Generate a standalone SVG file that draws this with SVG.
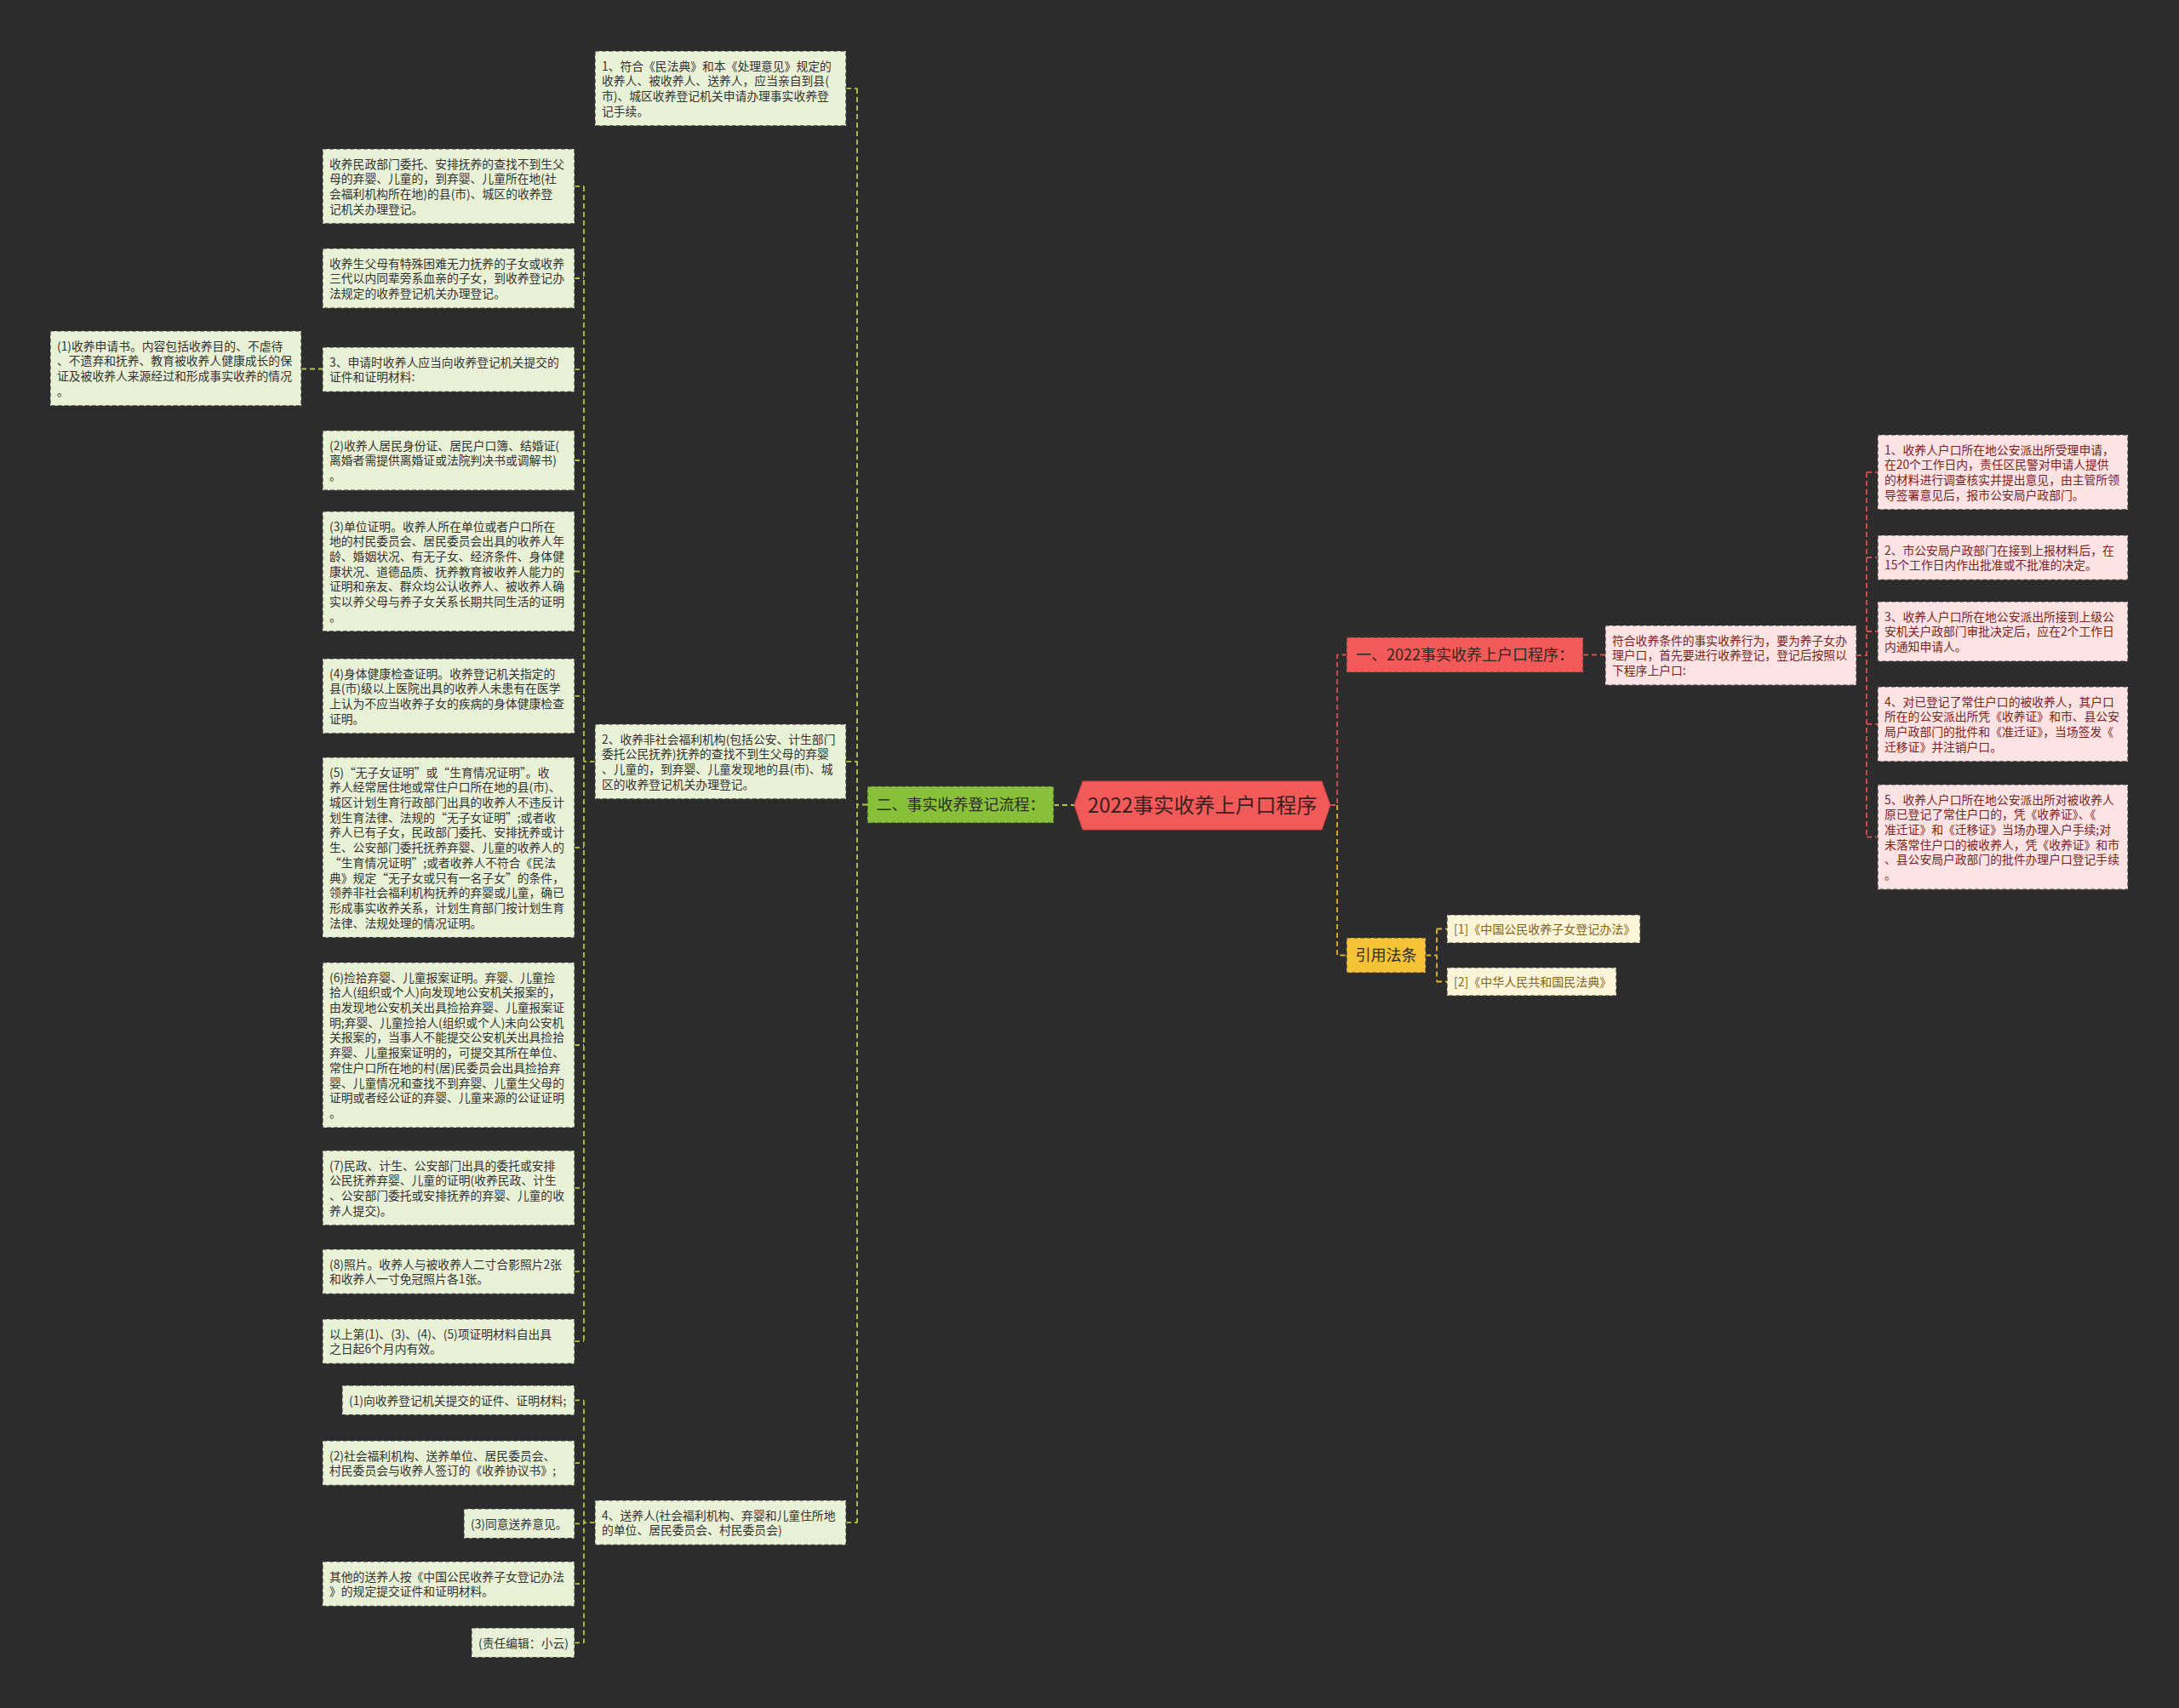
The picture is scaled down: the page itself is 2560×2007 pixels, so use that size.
<svg xmlns="http://www.w3.org/2000/svg" width="2560" height="2007" viewBox="0 0 2560 2007">
<style>
text{font-family:"Noto Sans CJK SC","Noto Sans",sans-serif}
.lg rect{fill:#e9f1d6;stroke:#3a3a3a;stroke-width:1.2;stroke-dasharray:5 3}
.lg text{font-size:13.8px;fill:#333}
.pk rect{fill:#fde3e3;stroke:#3a3a3a;stroke-width:1.2;stroke-dasharray:5 3}
.pk text{font-size:13.8px;fill:#7a2323}
.ct rect{fill:#fdf5d8;stroke:#3a3a3a;stroke-width:1.2;stroke-dasharray:5 3}
.ct text{font-size:14px;fill:#806420}
.main text{font-size:18px;fill:#2e2a22;text-anchor:middle}
.c{fill:none;stroke-width:1.8;stroke-dasharray:6 4}
.cg{stroke:#b2c83e}
.cr{stroke:#d65050}
.cy{stroke:#e2b22e}
</style>
<rect width="2560" height="2007" fill="#2c2c2c"/>

<g id="connectors">
  <path class="c cg" d="M1238 946 H1262"/>
  <path class="c cg" d="M1019 945.5 H1007 M1007 103.9 V1789.2 M994 103.9 H1007 M994 894.9 H1007 M994 1789.2 H1007"/>
  <path class="c cg" d="M699 894.9 H686 M686 218.9 V1576.2 M675 218.9 H686 M675 327 H686 M675 434.2 H686 M675 541 H686 M675 671.5 H686 M675 817.9 H686 M675 995.9 H686 M675 1228 H686 M675 1395.9 H686 M675 1494.2 H686 M675 1576.2 H686"/>
  <path class="c cg" d="M354 433.5 H379"/>
  <path class="c cg" d="M699 1789.2 H686 M686 1645.4 V1930.4 M675 1645.4 H686 M675 1719.2 H686 M675 1790.4 H686 M675 1861.2 H686 M675 1930.4 H686"/>
  <path class="c cr" d="M1563 946 H1571 V769.5 H1582"/>
  <path class="c cy" d="M1571 946 V1122.5 H1582"/>
  <path class="c cr" d="M1860 769.5 H1886"/>
  <path class="c cr" d="M2181 770 H2193 M2193 554.9 V983.6 M2193 554.9 H2206 M2193 655.2 H2206 M2193 742 H2206 M2193 850.9 H2206 M2193 983.6 H2206"/>
  <path class="c cy" d="M1675 1122.5 H1688 M1688 1091.5 V1153.5 M1688 1091.5 H1700 M1688 1153.5 H1700"/>
</g>

<g id="root">
  <polygon points="1262,946 1272,918 1553,918 1563,946 1553,975 1272,975" fill="#f25a5a" stroke="#c84040" stroke-width="1"/>
  <text x="1412.5" y="954.5" font-size="24" fill="#3a2020" text-anchor="middle">2022事实收养上户口程序</text>
</g>

<g id="n-er" class="main">
  <rect x="1019" y="924" width="219" height="43" fill="#88c03a" stroke="#3a3a3a" stroke-width="1.2" stroke-dasharray="5 3"/>
  <text x="1128.5" y="952">二、事实收养登记流程：</text>
</g>
<g id="n-yi" class="main">
  <rect x="1582" y="749" width="278" height="41" fill="#f25a5a" stroke="#3a3a3a" stroke-width="1.2" stroke-dasharray="5 3"/>
  <text x="1721" y="776">一、2022事实收养上户口程序：</text>
</g>
<g id="n-yinyong" class="main">
  <rect x="1582" y="1102" width="93" height="41" fill="#f6c236" stroke="#3a3a3a" stroke-width="1.2" stroke-dasharray="5 3"/>
  <text x="1628.5" y="1129">引用法条</text>
</g>

<g id="m1" class="lg">
  <rect x="699" y="60" width="295" height="87.8"/>
  <text x="707" y="82.6"><tspan x="707">1、符合《民法典》和本《处理意见》规定的</tspan><tspan x="707" dy="17.7">收养人、被收养人、送养人，应当亲自到县(</tspan><tspan x="707" dy="17.7">市)、城区收养登记机关申请办理事实收养登</tspan><tspan x="707" dy="17.7">记手续。</tspan></text>
</g>
<g id="m2" class="lg">
  <rect x="699" y="851" width="295" height="87.8"/>
  <text x="707" y="873.6"><tspan x="707">2、收养非社会福利机构(包括公安、计生部门</tspan><tspan x="707" dy="17.7">委托公民抚养)抚养的查找不到生父母的弃婴</tspan><tspan x="707" dy="17.7">、儿童的，到弃婴、儿童发现地的县(市)、城</tspan><tspan x="707" dy="17.7">区的收养登记机关办理登记。</tspan></text>
</g>
<g id="m4" class="lg">
  <rect x="699" y="1763" width="295" height="52.4"/>
  <text x="707" y="1785.6"><tspan x="707">4、送养人(社会福利机构、弃婴和儿童住所地</tspan><tspan x="707" dy="17.7">的单位、居民委员会、村民委员会)</tspan></text>
</g>

<g id="la" class="lg">
  <rect x="379" y="175" width="296" height="87.8"/>
  <text x="387" y="197.6"><tspan x="387">收养民政部门委托、安排抚养的查找不到生父</tspan><tspan x="387" dy="17.7">母的弃婴、儿童的，到弃婴、儿童所在地(社</tspan><tspan x="387" dy="17.7">会福利机构所在地)的县(市)、城区的收养登</tspan><tspan x="387" dy="17.7">记机关办理登记。</tspan></text>
</g>
<g id="lb" class="lg">
  <rect x="379" y="292" width="296" height="70.1"/>
  <text x="387" y="314.6"><tspan x="387">收养生父母有特殊困难无力抚养的子女或收养</tspan><tspan x="387" dy="17.7">三代以内同辈旁系血亲的子女，到收养登记办</tspan><tspan x="387" dy="17.7">法规定的收养登记机关办理登记。</tspan></text>
</g>
<g id="lc" class="lg">
  <rect x="379" y="408" width="296" height="52.4"/>
  <text x="387" y="430.6"><tspan x="387">3、申请时收养人应当向收养登记机关提交的</tspan><tspan x="387" dy="17.7">证件和证明材料:</tspan></text>
</g>
<g id="lc1" class="lg">
  <rect x="59" y="389" width="295" height="87.8"/>
  <text x="67" y="411.6"><tspan x="67">(1)收养申请书。内容包括收养目的、不虐待</tspan><tspan x="67" dy="17.7">、不遗弃和抚养、教育被收养人健康成长的保</tspan><tspan x="67" dy="17.7">证及被收养人来源经过和形成事实收养的情况</tspan><tspan x="67" dy="17.7">。</tspan></text>
</g>
<g id="ld" class="lg">
  <rect x="379" y="506" width="296" height="70.1"/>
  <text x="387" y="528.6"><tspan x="387">(2)收养人居民身份证、居民户口簿、结婚证(</tspan><tspan x="387" dy="17.7">离婚者需提供离婚证或法院判决书或调解书)</tspan><tspan x="387" dy="17.7">。</tspan></text>
</g>
<g id="le" class="lg">
  <rect x="379" y="601" width="296" height="140.9"/>
  <text x="387" y="623.6"><tspan x="387">(3)单位证明。收养人所在单位或者户口所在</tspan><tspan x="387" dy="17.7">地的村民委员会、居民委员会出具的收养人年</tspan><tspan x="387" dy="17.7">龄、婚姻状况、有无子女、经济条件、身体健</tspan><tspan x="387" dy="17.7">康状况、道德品质、抚养教育被收养人能力的</tspan><tspan x="387" dy="17.7">证明和亲友、群众均公认收养人、被收养人确</tspan><tspan x="387" dy="17.7">实以养父母与养子女关系长期共同生活的证明</tspan><tspan x="387" dy="17.7">。</tspan></text>
</g>
<g id="lf" class="lg">
  <rect x="379" y="774" width="296" height="87.8"/>
  <text x="387" y="796.6"><tspan x="387">(4)身体健康检查证明。收养登记机关指定的</tspan><tspan x="387" dy="17.7">县(市)级以上医院出具的收养人未患有在医学</tspan><tspan x="387" dy="17.7">上认为不应当收养子女的疾病的身体健康检查</tspan><tspan x="387" dy="17.7">证明。</tspan></text>
</g>
<g id="lg5" class="lg">
  <rect x="379" y="890" width="296" height="211.7"/>
  <text x="387" y="912.6"><tspan x="387">(5)“无子女证明”或“生育情况证明”。收</tspan><tspan x="387" dy="17.7">养人经常居住地或常住户口所在地的县(市)、</tspan><tspan x="387" dy="17.7">城区计划生育行政部门出具的收养人不违反计</tspan><tspan x="387" dy="17.7">划生育法律、法规的“无子女证明”;或者收</tspan><tspan x="387" dy="17.7">养人已有子女，民政部门委托、安排抚养或计</tspan><tspan x="387" dy="17.7">生、公安部门委托抚养弃婴、儿童的收养人的</tspan><tspan x="387" dy="17.7">“生育情况证明”;或者收养人不符合《民法</tspan><tspan x="387" dy="17.7">典》规定“无子女或只有一名子女”的条件，</tspan><tspan x="387" dy="17.7">领养非社会福利机构抚养的弃婴或儿童，确已</tspan><tspan x="387" dy="17.7">形成事实收养关系，计划生育部门按计划生育</tspan><tspan x="387" dy="17.7">法律、法规处理的情况证明。</tspan></text>
</g>
<g id="lh" class="lg">
  <rect x="379" y="1131" width="296" height="194"/>
  <text x="387" y="1153.6"><tspan x="387">(6)捡拾弃婴、儿童报案证明。弃婴、儿童捡</tspan><tspan x="387" dy="17.7">拾人(组织或个人)向发现地公安机关报案的，</tspan><tspan x="387" dy="17.7">由发现地公安机关出具捡拾弃婴、儿童报案证</tspan><tspan x="387" dy="17.7">明;弃婴、儿童捡拾人(组织或个人)未向公安机</tspan><tspan x="387" dy="17.7">关报案的，当事人不能提交公安机关出具捡拾</tspan><tspan x="387" dy="17.7">弃婴、儿童报案证明的，可提交其所在单位、</tspan><tspan x="387" dy="17.7">常住户口所在地的村(居)民委员会出具捡拾弃</tspan><tspan x="387" dy="17.7">婴、儿童情况和查找不到弃婴、儿童生父母的</tspan><tspan x="387" dy="17.7">证明或者经公证的弃婴、儿童来源的公证证明</tspan><tspan x="387" dy="17.7">。</tspan></text>
</g>
<g id="li" class="lg">
  <rect x="379" y="1352" width="296" height="87.8"/>
  <text x="387" y="1374.6"><tspan x="387">(7)民政、计生、公安部门出具的委托或安排</tspan><tspan x="387" dy="17.7">公民抚养弃婴、儿童的证明(收养民政、计生</tspan><tspan x="387" dy="17.7">、公安部门委托或安排抚养的弃婴、儿童的收</tspan><tspan x="387" dy="17.7">养人提交)。</tspan></text>
</g>
<g id="lj" class="lg">
  <rect x="379" y="1468" width="296" height="52.4"/>
  <text x="387" y="1490.6"><tspan x="387">(8)照片。收养人与被收养人二寸合影照片2张</tspan><tspan x="387" dy="17.7">和收养人一寸免冠照片各1张。</tspan></text>
</g>
<g id="lk" class="lg">
  <rect x="379" y="1550" width="296" height="52.4"/>
  <text x="387" y="1572.6"><tspan x="387">以上第(1)、(3)、(4)、(5)项证明材料自出具</tspan><tspan x="387" dy="17.7">之日起6个月内有效。</tspan></text>
</g>

<g id="b1" class="lg">
  <rect x="402" y="1628" width="273" height="34.7"/>
  <text x="410" y="1650.6">(1)向收养登记机关提交的证件、证明材料;</text>
</g>
<g id="b2" class="lg">
  <rect x="379" y="1693" width="296" height="52.4"/>
  <text x="387" y="1715.6"><tspan x="387">(2)社会福利机构、送养单位、居民委员会、</tspan><tspan x="387" dy="17.7">村民委员会与收养人签订的《收养协议书》;</tspan></text>
</g>
<g id="b3" class="lg">
  <rect x="545" y="1773" width="130" height="34.7"/>
  <text x="553" y="1795.6">(3)同意送养意见。</text>
</g>
<g id="b4" class="lg">
  <rect x="379" y="1835" width="296" height="52.4"/>
  <text x="387" y="1857.6"><tspan x="387">其他的送养人按《中国公民收养子女登记办法</tspan><tspan x="387" dy="17.7">》的规定提交证件和证明材料。</tspan></text>
</g>
<g id="b5" class="lg">
  <rect x="554" y="1913" width="121" height="34.7"/>
  <text x="562" y="1935.6">(责任编辑：小云)</text>
</g>

<g id="fuhe" class="pk">
  <rect x="1886" y="735" width="295" height="70.1"/>
  <text x="1894" y="757.6"><tspan x="1894">符合收养条件的事实收养行为，要为养子女办</tspan><tspan x="1894" dy="17.7">理户口，首先要进行收养登记，登记后按照以</tspan><tspan x="1894" dy="17.7">下程序上户口:</tspan></text>
</g>
<g id="p1" class="pk">
  <rect x="2206" y="511" width="294" height="87.8"/>
  <text x="2214" y="533.6"><tspan x="2214">1、收养人户口所在地公安派出所受理申请，</tspan><tspan x="2214" dy="17.7">在20个工作日内，责任区民警对申请人提供</tspan><tspan x="2214" dy="17.7">的材料进行调查核实并提出意见，由主管所领</tspan><tspan x="2214" dy="17.7">导签署意见后，报市公安局户政部门。</tspan></text>
</g>
<g id="p2" class="pk">
  <rect x="2206" y="629" width="294" height="52.4"/>
  <text x="2214" y="651.6"><tspan x="2214">2、市公安局户政部门在接到上报材料后，在</tspan><tspan x="2214" dy="17.7">15个工作日内作出批准或不批准的决定。</tspan></text>
</g>
<g id="p3" class="pk">
  <rect x="2206" y="707" width="294" height="70.1"/>
  <text x="2214" y="729.6"><tspan x="2214">3、收养人户口所在地公安派出所接到上级公</tspan><tspan x="2214" dy="17.7">安机关户政部门审批决定后，应在2个工作日</tspan><tspan x="2214" dy="17.7">内通知申请人。</tspan></text>
</g>
<g id="p4" class="pk">
  <rect x="2206" y="807" width="294" height="87.8"/>
  <text x="2214" y="829.6"><tspan x="2214">4、对已登记了常住户口的被收养人，其户口</tspan><tspan x="2214" dy="17.7">所在的公安派出所凭《收养证》和市、县公安</tspan><tspan x="2214" dy="17.7">局户政部门的批件和《准迁证》，当场签发《</tspan><tspan x="2214" dy="17.7">迁移证》并注销户口。</tspan></text>
</g>
<g id="p5" class="pk">
  <rect x="2206" y="922" width="294" height="123.2"/>
  <text x="2214" y="944.6"><tspan x="2214">5、收养人户口所在地公安派出所对被收养人</tspan><tspan x="2214" dy="17.7">原已登记了常住户口的，凭《收养证》、《</tspan><tspan x="2214" dy="17.7">准迁证》和《迁移证》当场办理入户手续;对</tspan><tspan x="2214" dy="17.7">未落常住户口的被收养人，凭《收养证》和市</tspan><tspan x="2214" dy="17.7">、县公安局户政部门的批件办理户口登记手续</tspan><tspan x="2214" dy="17.7">。</tspan></text>
</g>

<g id="r1" class="ct">
  <rect x="1700" y="1075" width="227" height="33"/>
  <text x="1708" y="1096.5">[1]《中国公民收养子女登记办法》</text>
</g>
<g id="r2" class="ct">
  <rect x="1700" y="1137" width="199" height="33"/>
  <text x="1708" y="1158.5">[2]《中华人民共和国民法典》</text>
</g>
</svg>
